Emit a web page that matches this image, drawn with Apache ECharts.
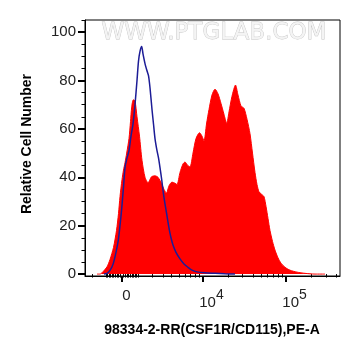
<!DOCTYPE html>
<html><head><meta charset="utf-8">
<script src="https://cdn.jsdelivr.net/npm/echarts@6/dist/echarts.min.js"></script>
<style>html,body{margin:0;padding:0;background:#fff}#c{width:361px;height:356px}</style>
</head><body><div id="c"></div>
<script>
// Histogram bins in display channels (0..255 across the plot width)
const redX = [12,15,18,22,25,28.5,31.5,33.5,35,37,38.5,40,41.7,44,45.5,46.7,48.3,50,52,54.5,57,60,63,66.5,70,73,76.5,79,81.5,84,87,90,92,95,98,100,102.5,105,108,111,114.5,117,119,121.5,124,127,130,133,136,139,141.7,144,147,150.5,153,156,159,162,165,167.5,170,172,174,176.5,179,181,183,185,187.5,190,193,196,200,205,212,220,230,240];
const redY = [0,0,1,3,6,11,18,25,32,39,43,46,50,56,63,69,72,71.5,65,57,47,40,37.7,40.2,40.6,40,37.5,35,33.5,36.5,38,37.5,37,42,45.5,46.3,45,44.3,50,56,58.4,57,55,62,68,74,76.4,74.5,70.5,66,62.3,67,73.5,78.1,74,69.5,68.5,64,58,50,42,37,34,33,32,28,23,18,13.5,9.9,6.7,4.5,2.8,1.6,0.8,0.3,0,0];
const blueX = [19,22,25,28,31,33.3,35,36.7,38.5,40,42,44,46,48,50,52,53.5,55,56.7,58,60,62,63.5,65,67,68.5,70,72,73.5,75,76.7,78.5,80,82,84,86,88,91,95,99,103,107,112,120,130,140,150];
const blueY = [0,0.3,1.5,4,9,14,20,27,36,44,48,51,57,62,70,80,88,92,94,91,87,84,82,77,68,62,56,51,48,44,39,33,29,24,19,15,12,9,6.3,4.2,2.8,1.6,0.9,0.5,0.3,0.1,0];

const yTickValues = [0,20,40,60,80,100];
const yMinorValues = [5,10,15,25,30,35,45,50,55,65,70,75,85,90,95,105];
const xMajorRaw = [0, 1e4, 1e5];
const xMajorLabels = ['0', '10|4', '10|5'];
const xMinorRaw = [-2000,-1000,-900,-800,-700,-600,-500,-400,-300,-200,-100,100,200,300,400,500,600,700,800,900,
  1000,2000,3000,4000,5000,6000,7000,8000,9000,20000,30000,40000,50000,60000,70000,80000,90000,200000,300000,400000];

// biexponential-like display transform (raw intensity -> channel)
const toCh = v => 37 + 36.26 * Math.asinh(v / 2169);
const xMajor = xMajorRaw.map(toCh);
const xMinor = xMinorRaw.map(toCh);

const font = 'Liberation Sans, Arial, sans-serif';
const chart = echarts.init(document.getElementById('c'), null, {renderer: 'canvas'});
chart.setOption({
  animation: false,
  grid: {left: 85, top: 20, width: 255, height: 256, show: true, borderColor: '#000', borderWidth: 1, backgroundColor: 'transparent'},
  xAxis: [{
    type: 'value', min: 0, max: 255, position: 'bottom',
    axisLine: {show: true, onZero: false, lineStyle: {color: '#000', width: 1}},
    splitLine: {show: false},
    axisTick: {show: true, customValues: xMajor, length: 6, lineStyle: {color: '#000', width: 2}},
    axisLabel: {
      customValues: xMajor, margin: 12, color: '#222', fontFamily: font, fontSize: 15,
      formatter: function (v) {
        let i = xMajor.findIndex(m => Math.abs(m - v) < 0.01);
        if (i < 0) return '';
        const p = xMajorLabels[i].split('|');
        if (p.length === 1) return '{z|' + p[0] + '}';
        return '{b|' + p[0] + '}{s|' + p[1] + '}';
      },
      rich: {
        z: {fontSize: 15, color: '#222', fontFamily: font, padding: [0, 0, 0, 9]},
        b: {fontSize: 15, color: '#222', fontFamily: font, padding: [0, 0, 0, 17]},
        s: {fontSize: 14, color: '#222', fontFamily: font, padding: [0, 0, 16, 0]}
      }
    }
  }, {
    type: 'value', min: 0, max: 255, position: 'bottom',
    axisLine: {show: false}, splitLine: {show: false},
    axisTick: {show: true, customValues: xMinor, length: 3.5, lineStyle: {color: '#000', width: 1}},
    axisLabel: {show: false}
  }],
  yAxis: [{
    type: 'value', min: -0.8, max: 105,
    axisLine: {show: true, onZero: false, lineStyle: {color: '#000', width: 1}},
    splitLine: {show: false},
    axisTick: {show: true, customValues: yTickValues, length: 7, lineStyle: {color: '#000', width: 2}},
    axisLabel: {customValues: yTickValues, margin: 9, color: '#222', fontFamily: font, fontSize: 15}
  }, {
    type: 'value', min: -0.8, max: 105, position: 'left',
    axisLine: {show: false}, splitLine: {show: false},
    axisTick: {show: true, customValues: yMinorValues, length: 3.5, lineStyle: {color: '#000', width: 1}},
    axisLabel: {show: false}
  }],
  graphic: [
    {type: 'text', z: 0, x: 214, y: 33, style: {text: 'WWW.PTGLAB.COM', font: '23px DejaVu Sans', fill: '#f4f4f4', stroke: '#c4c4c4', lineWidth: 0.8, align: 'center', verticalAlign: 'middle'}},
    {type: 'text', x: 27, y: 144, rotation: Math.PI / 2, style: {text: 'Relative Cell Number', font: 'bold 14px Liberation Sans', fill: '#000', align: 'center', verticalAlign: 'middle'}},
    {type: 'text', x: 212, y: 330, style: {text: '98334-2-RR(CSF1R/CD115),PE-A', font: 'bold 14px Liberation Sans', fill: '#000', align: 'center', verticalAlign: 'middle'}}
  ],
  series: [{
    type: 'line', xAxisIndex: 0, yAxisIndex: 0, showSymbol: false, smooth: 0.25,
    data: redX.map((x, i) => [x, redY[i]]),
    lineStyle: {color: '#ff0000', width: 1},
    areaStyle: {color: '#ff0000', opacity: 1, origin: 0},
    z: 2
  }, {
    type: 'line', xAxisIndex: 0, yAxisIndex: 0, showSymbol: false, smooth: 0.25,
    data: blueX.map((x, i) => [x, blueY[i]]),
    lineStyle: {color: '#1c1c96', width: 1.5},
    z: 3
  }]
});
</script></body></html>
